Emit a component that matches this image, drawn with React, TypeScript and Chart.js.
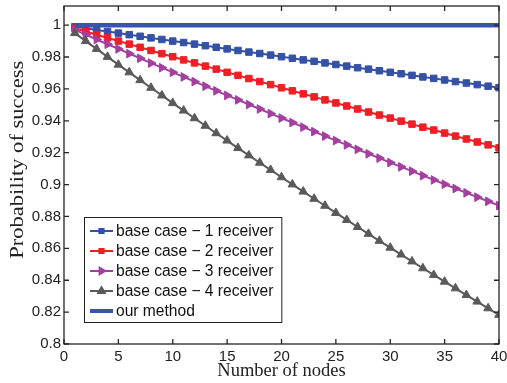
import React, { useEffect, useRef } from 'react';
import { Chart, registerables } from 'chart.js';
import { drawPoint } from 'chart.js/helpers';

Chart.register(...registerables);

const nodes = [
  1, 2, 3, 4, 5, 6, 7, 8, 9, 10, 11, 12, 13, 14, 15, 16, 17, 18, 19, 20,
  21, 22, 23, 24, 25, 26, 27, 28, 29, 30, 31, 32, 33, 34, 35, 36, 37, 38, 39, 40,
];

const case1 = [
  0.999, 0.998, 0.997, 0.996, 0.995, 0.994, 0.993, 0.992, 0.991, 0.99,
  0.9891, 0.9881, 0.9871, 0.9861, 0.9851, 0.9841, 0.9831, 0.9822, 0.9812, 0.9802,
  0.9792, 0.9782, 0.9773, 0.9763, 0.9753, 0.9743, 0.9733, 0.9724, 0.9714, 0.9704,
  0.9695, 0.9685, 0.9675, 0.9666, 0.9656, 0.9646, 0.9637, 0.9627, 0.9617, 0.9608,
];

const case2 = [
  0.998, 0.996, 0.994, 0.992, 0.99, 0.9881, 0.9861, 0.9841, 0.9821, 0.9802,
  0.9782, 0.9763, 0.9743, 0.9724, 0.9704, 0.9685, 0.9665, 0.9646, 0.9627, 0.9607,
  0.9588, 0.9569, 0.955, 0.9531, 0.9512, 0.9493, 0.9474, 0.9455, 0.9436, 0.9417,
  0.9398, 0.9379, 0.936, 0.9342, 0.9323, 0.9304, 0.9286, 0.9267, 0.9249, 0.923,
];

const case3 = [
  0.997, 0.994, 0.991, 0.988, 0.9851, 0.9821, 0.9792, 0.9762, 0.9733, 0.9704,
  0.9675, 0.9646, 0.9617, 0.9588, 0.9559, 0.9531, 0.9502, 0.9474, 0.9445, 0.9417,
  0.9389, 0.936, 0.9332, 0.9304, 0.9276, 0.9249, 0.9221, 0.9193, 0.9166, 0.9138,
  0.9111, 0.9084, 0.9056, 0.9029, 0.9002, 0.8975, 0.8948, 0.8921, 0.8895, 0.8868,
];

const case4 = [
  0.995, 0.99, 0.9851, 0.9801, 0.9752, 0.9704, 0.9655, 0.9607, 0.9559, 0.9511,
  0.9464, 0.9416, 0.9369, 0.9322, 0.9276, 0.9229, 0.9183, 0.9137, 0.9092, 0.9046,
  0.9001, 0.8956, 0.8911, 0.8867, 0.8822, 0.8778, 0.8734, 0.8691, 0.8647, 0.8604,
  0.8561, 0.8518, 0.8475, 0.8433, 0.8391, 0.8349, 0.8307, 0.8266, 0.8224, 0.8183,
];

const ourMethod = [
  1, 1, 1, 1, 1, 1, 1, 1, 1, 1,
  1, 1, 1, 1, 1, 1, 1, 1, 1, 1,
  1, 1, 1, 1, 1, 1, 1, 1, 1, 1,
  1, 1, 1, 1, 1, 1, 1, 1, 1, 1,
];

const seriesNames = [
  'base case − 1 receiver',
  'base case − 2 receiver',
  'base case − 3 receiver',
  'base case − 4 receiver',
  'our method',
];

const xTicks = [0, 5, 10, 15, 20, 25, 30, 35, 40];
const yTicks = [0.8, 0.82, 0.84, 0.86, 0.88, 0.9, 0.92, 0.94, 0.96, 0.98, 1];

const xTitle = 'Number of nodes';
const yTitle = 'Probability of success';

const colors = ['#3451a6', '#ee1f26', '#a3409f', '#5a5a5a', '#3a55a8'];
const pointStyles: any[] = ['rect', 'rect', 'triangle', 'triangle', false];
const pointRotations = [0, 0, 90, 0, 0];
const lineWidths = [2, 2, 2, 2, 4.5];
const radii = [4.6, 4.6, 5, 5, 0];
const legendRadii = [3, 3, 3.8, 3.8, 0];

const SANS = '"Liberation Sans", Arial, Helvetica, sans-serif';
const SERIF = '"Liberation Serif", "Times New Roman", serif';

const framePlugin = {
  id: 'frameTicks',
  afterDraw(chart: any) {
    const { ctx, chartArea } = chart;
    const { left, right, top, bottom } = chartArea;
    const xs = chart.scales.x;
    const ys = chart.scales.y;
    ctx.save();
    ctx.strokeStyle = '#262626';
    ctx.lineWidth = 1.3;
    ctx.strokeRect(left, top, right - left, bottom - top);
    const tl = 5;
    ctx.beginPath();
    xs.ticks.forEach((t: any) => {
      const px = xs.getPixelForValue(t.value);
      ctx.moveTo(px, bottom);
      ctx.lineTo(px, bottom - tl);
      ctx.moveTo(px, top);
      ctx.lineTo(px, top + tl);
    });
    ys.ticks.forEach((t: any) => {
      const py = ys.getPixelForValue(t.value);
      ctx.moveTo(left, py);
      ctx.lineTo(left + tl, py);
      ctx.moveTo(right, py);
      ctx.lineTo(right - tl, py);
    });
    ctx.stroke();

    // y axis title (stretched along its length like the reference)
    ctx.save();
    ctx.font = `18px ${SERIF}`;
    const tw = ctx.measureText(yTitle).width;
    ctx.translate(left - 46, top + (bottom - top) * 0.455);
    ctx.rotate(-Math.PI / 2);
    ctx.scale(198 / tw, 1);
    ctx.fillStyle = '#222';
    ctx.textAlign = 'center';
    ctx.textBaseline = 'middle';
    ctx.fillText(yTitle, 0, 0);
    ctx.restore();

    // legend box
    const lx = left + 20;
    const rowH = 20;
    const lh = rowH * seriesNames.length + 5;
    const ly = bottom - 22 - lh;
    ctx.font = `15.6px ${SANS}`;
    let maxW = 0;
    seriesNames.forEach((n) => {
      maxW = Math.max(maxW, ctx.measureText(n).width);
    });
    const lw = 32 + maxW + 8;
    ctx.fillStyle = '#ffffff';
    ctx.fillRect(lx, ly, lw, lh);
    ctx.lineWidth = 1;
    ctx.strokeStyle = '#222';
    ctx.strokeRect(lx + 0.5, ly + 0.5, lw, lh);
    seriesNames.forEach((name, i) => {
      const cy = ly + 14 + i * rowH;
      ctx.strokeStyle = colors[i];
      ctx.lineWidth = lineWidths[i] === 2 ? 2 : 4;
      ctx.beginPath();
      ctx.moveTo(lx + 6, cy);
      ctx.lineTo(lx + 29, cy);
      ctx.stroke();
      if (pointStyles[i]) {
        ctx.fillStyle = colors[i];
        ctx.strokeStyle = colors[i];
        drawPoint(ctx, {
          pointStyle: pointStyles[i],
          radius: legendRadii[i],
          rotation: pointRotations[i],
          borderWidth: 1,
        } as any, lx + 17.5, cy);
      }
      ctx.fillStyle = '#111';
      ctx.textBaseline = 'middle';
      ctx.textAlign = 'left';
      ctx.fillText(name, lx + 32, cy + 1);
    });
    ctx.restore();
  },
};

export default function App() {
  const ref = useRef<HTMLCanvasElement | null>(null);

  useEffect(() => {
    document.body.style.margin = '0';
    const seriesData = [case1, case2, case3, case4, ourMethod];
    const datasets = seriesData.map((arr, i) => ({
      label: seriesNames[i],
      data: nodes.map((n, j) => ({ x: n, y: arr[j] })),
      borderColor: colors[i],
      backgroundColor: colors[i],
      borderWidth: lineWidths[i],
      pointStyle: pointStyles[i],
      pointRadius: radii[i],
      pointRotation: pointRotations[i],
      pointBorderWidth: 1,
      pointBackgroundColor: colors[i],
      pointBorderColor: colors[i],
      tension: 0,
      order: 4 - i,
    }));
    const chart = new Chart(ref.current as HTMLCanvasElement, {
      type: 'line',
      data: { datasets },
      options: {
        animation: false,
        responsive: true,
        maintainAspectRatio: false,
        layout: { padding: { top: 4, right: 8, left: 0, bottom: 0 } },
        plugins: { legend: { display: false }, tooltip: { enabled: false } },
        scales: {
          x: {
            type: 'linear',
            min: 0,
            max: 40,
            afterBuildTicks: (s: any) => {
              s.ticks = xTicks.map((v) => ({ value: v }));
            },
            afterFit: (s: any) => {
              s.height = 39;
              s.paddingLeft = 0;
              s.paddingRight = 0;
            },
            grid: { display: false, drawTicks: false },
            border: { display: false },
            ticks: {
              font: { family: SANS, size: 15 },
              color: '#222',
              padding: 4,
              maxRotation: 0,
              callback: (v: any) => String(v),
            },
            title: {
              display: true,
              text: xTitle,
              font: { family: SERIF, size: 18.5 },
              color: '#222',
              padding: { top: 0, bottom: 1 },
            },
          },
          y: {
            type: 'linear',
            min: 0.8,
            max: 1.012,
            afterBuildTicks: (s: any) => {
              s.ticks = yTicks.map((v) => ({ value: v }));
            },
            afterFit: (s: any) => {
              s.width = 64;
              s.paddingTop = 0;
              s.paddingBottom = 0;
            },
            grid: { display: false, drawTicks: false },
            border: { display: false },
            ticks: {
              font: { family: SANS, size: 15 },
              color: '#222',
              padding: 3,
              callback: (v: any) => String(Number(Number(v).toFixed(2))),
            },
            title: { display: false, text: yTitle },
          },
        },
      },
      plugins: [framePlugin],
    });
    return () => chart.destroy();
  }, []);

  return (
    <div style={{ position: 'relative', width: 507, height: 383 }}>
      <canvas ref={ref} />
    </div>
  );
}
